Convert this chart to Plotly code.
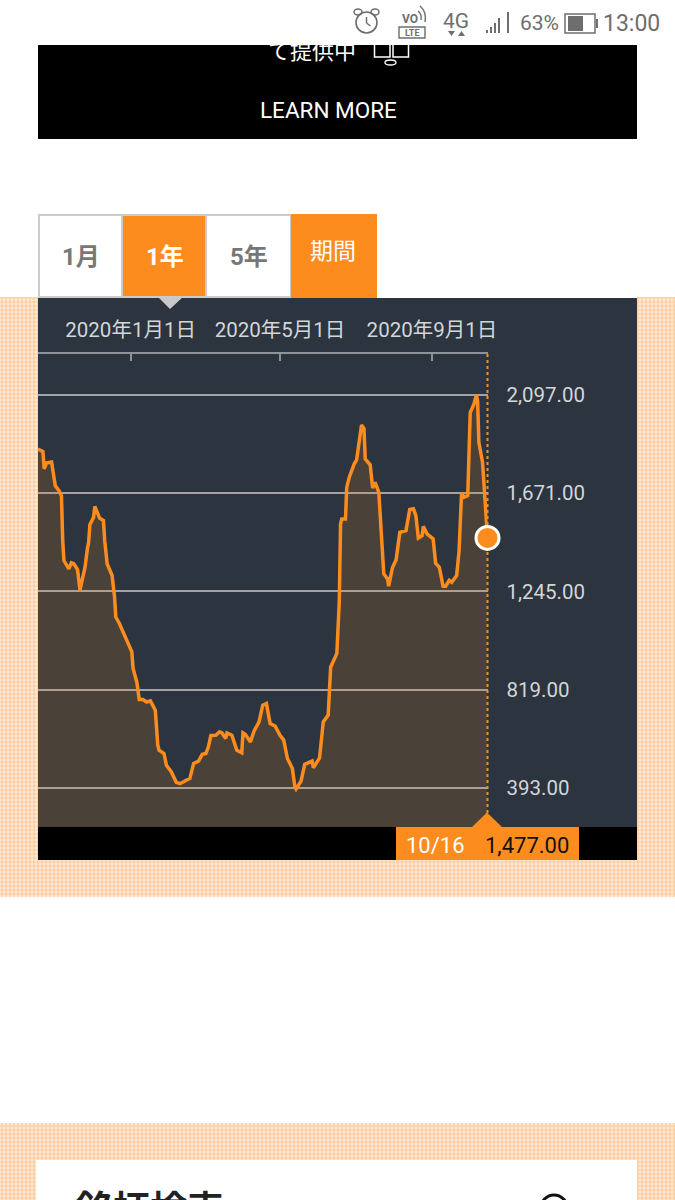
import plotly.graph_objects as go

# Chart data
dates=["2019-10-18","2019-10-22","2019-10-23","2019-10-25","2019-10-29","2019-11-01","2019-11-04","2019-11-06","2019-11-07","2019-11-08",
    "2019-11-12","2019-11-14","2019-11-16","2019-11-19","2019-11-21","2019-11-25","2019-11-27","2019-11-28","2019-11-29","2019-12-02",
    "2019-12-03","2019-12-05","2019-12-07","2019-12-10","2019-12-11","2019-12-13","2019-12-17","2019-12-19","2019-12-20","2019-12-23",
    "2020-01-02","2020-01-03","2020-01-06","2020-01-08","2020-01-11","2020-01-14","2020-01-17","2020-01-21","2020-01-23","2020-01-24",
    "2020-01-28","2020-01-30","2020-02-03","2020-02-07","2020-02-10","2020-02-18","2020-02-21","2020-02-25","2020-02-28","2020-03-02",
    "2020-03-04","2020-03-06","2020-03-10","2020-03-13","2020-03-15","2020-03-18","2020-03-19","2020-03-23","2020-03-27","2020-03-31",
    "2020-04-01","2020-04-03","2020-04-07","2020-04-10","2020-04-14","2020-04-17","2020-04-20","2020-04-23","2020-04-27","2020-05-01",
    "2020-05-04","2020-05-07","2020-05-11","2020-05-13","2020-05-14","2020-05-18","2020-05-21","2020-05-27","2020-05-28","2020-06-02",
    "2020-06-05","2020-06-09","2020-06-11","2020-06-16","2020-06-18","2020-06-19","2020-06-20","2020-06-23","2020-06-24","2020-06-26",
    "2020-06-30","2020-07-02","2020-07-04","2020-07-06","2020-07-08","2020-07-09","2020-07-13","2020-07-15","2020-07-17","2020-07-20",
    "2020-07-24","2020-07-27","2020-07-28","2020-07-31","2020-08-03","2020-08-06","2020-08-11","2020-08-14","2020-08-17","2020-08-19",
    "2020-08-21","2020-08-24","2020-08-25","2020-08-28","2020-09-02","2020-09-04","2020-09-07","2020-09-10","2020-09-12","2020-09-15",
    "2020-09-17","2020-09-21","2020-09-23","2020-09-25","2020-09-27","2020-09-30","2020-10-02","2020-10-05","2020-10-07","2020-10-08",
    "2020-10-09","2020-10-12","2020-10-16"]
values=[1862,1851,1776,1802,1806,1703,1682,1660,1466,1379,
    1343,1369,1365,1340,1252,1348,1430,1458,1534,1566,
    1613,1588,1562,1552,1466,1365,1314,1220,1134,1105,
    983,911,853,777,777,766,771,730,579,557,
    543,492,463,418,412,435,500,510,539,543,
    572,621,622,637,632,608,632,622,557,546,
    632,625,593,641,680,752,759,673,662,622,
    601,521,478,399,389,423,496,510,481,524,
    680,709,918,976,1206,1538,1559,1559,1696,1739,
    1797,1815,1898,1966,1951,1819,1794,1693,1718,1674,
    1322,1300,1268,1348,1382,1501,1509,1600,1603,1574,
    1477,1487,1527,1495,1473,1367,1350,1268,1267,1293,
    1285,1314,1422,1674,1653,1660,2020,2057,2097,2071,
    1891,1804,1477]
y_ticks=[393,819,1245,1671,2097]
x_ticks=["2020-01-01","2020-05-01","2020-09-01"]
x_labels=["2020年1月1日","2020年5月1日","2020年9月1日"]
periods=["1月","1年","5年","期間"]

orange="#fd8c1e"
panel="#2b343f"
latin="Roboto, 'Noto Sans CJK JP'"
cjk="'Noto Sans CJK JP', sans-serif"

fig=go.Figure()

# Dotted page background, left/right/bottom strips round the panel and the card
strip_x=[19,656,337.5,337.5,18,656]
strip_w=[38,38,599,675,36,38]
strip_top=[297,297,860,1123,1160,1160]
strip_h=[600,600,37,37,40,40]
fig.add_trace(go.Bar(x=strip_x,y=strip_h,base=strip_top,width=strip_w,
    marker=dict(color="#ffffff",line_width=0,
        pattern=dict(shape="+",size=4,solidity=0.5,fgcolor="#f8a95f",bgcolor="#ffead6"))))

# Texts cut off by the white header strip and by the bottom of the page
fig.add_trace(go.Scatter(x=[312],y=[53],mode="text",text=["て提供中"],
    textfont=dict(family=cjk,size=22,color="#ffffff"),cliponaxis=True))
fig.add_trace(go.Scatter(x=[150],y=[1195],mode="text",text=["<b>銘柄検索</b>"],textposition="bottom center",
    textfont=dict(family=cjk,size=37,color="#222222"),cliponaxis=True))

# The chart itself
fig.add_trace(go.Scatter(x=dates,y=values,mode="lines",xaxis="x2",yaxis="y2",
    line=dict(color=orange,width=3.5),fill="tozeroy",fillcolor="rgba(255,140,30,0.15)"))
fig.add_trace(go.Scatter(x=dates[-1:],y=values[-1:],mode="markers",xaxis="x2",yaxis="y2",cliponaxis=False,
    marker=dict(color=orange,size=23,line=dict(color="#ffffff",width=3))))

def rect(x0,y0,x1,y1,fill,line=None,width=0,layer="below"):
    return dict(type="rect",xref="x",yref="y",x0=x0,y0=y0,x1=x1,y1=y1,fillcolor=fill,layer=layer,
        line=dict(color=line if line else fill,width=width))

def tri(path,fill,layer="below"):
    return dict(type="path",xref="x",yref="y",path=path,fillcolor=fill,line_width=0,layer=layer)

def curve(path,color,width):
    return dict(type="path",xref="x",yref="y",path=path,layer="above",line=dict(color=color,width=width))

def oval(x0,y0,x1,y1,line,width,fill="rgba(0,0,0,0)",layer="above"):
    return dict(type="circle",xref="x",yref="y",x0=x0,y0=y0,x1=x1,y1=y1,fillcolor=fill,layer=layer,
        line=dict(color=line,width=width))

grey="#6e6e6e"
shapes=[
    # banner
    rect(38,45,637,139,"#000000"),
    rect(374.5,42,390,57,"rgba(0,0,0,0)","#ffffff",1.5,"above"),
    rect(393,42,408.5,57,"rgba(0,0,0,0)","#ffffff",1.5,"above"),
    rect(0,0,675,45,"#ffffff",layer="above"),
    oval(385,60,396,65,"#ffffff",1.3),
    # period buttons
    rect(39,215,122,297,"#ffffff","#cccccc",2),
    rect(122,215,206,297,orange,"#cccccc",2),
    rect(206,215,291,297,"#ffffff","#cccccc",2),
    rect(291,214,377,298,orange),
    # panel
    rect(38,298,637,827,panel),
    rect(38,827,637,860,"#000000"),
    rect(396,827,579,860,orange),
    tri("M 158 297 L 183 297 L 170 309 Z","#c9c9c9"),
    tri("M 472 827 L 502 827 L 487 812.5 Z",orange),
    dict(type="line",xref="x",yref="y",x0=487.5,x1=487.5,y0=354,y1=813,layer="below",
        line=dict(color=orange,width=2,dash="3px,3px")),
    # status bar icons
    oval(356,12,377,33,grey,1.6),
    dict(type="line",xref="x",yref="y",x0=366.5,x1=366.5,y0=17,y1=23,line=dict(color=grey,width=1.5)),
    dict(type="line",xref="x",yref="y",x0=366.5,x1=370.5,y0=23,y1=26,line=dict(color=grey,width=1.5)),
    oval(354,9,362,15,grey,1.5),
    oval(371,9,379,15,grey,1.5),
    rect(399,27,425,38,"#ffffff",grey,1.4,"above"),
    curve("M 418 11 Q 422 14 421 20",grey,1.4),
    curve("M 420 6 Q 427 12 425 22",grey,1.4),
    tri("M 448 31 L 455 31 L 451.5 36 Z",grey,"above"),
    tri("M 458 36 L 465 36 L 461.5 31 Z",grey,"above"),
    rect(486,30,488,33,grey,layer="above"),
    rect(490,27,492,33,grey,layer="above"),
    rect(494,23,496,33,grey,layer="above"),
    rect(498,18,500,33,grey,layer="above"),
    rect(507,12,509,33,grey,layer="above"),
    rect(565,14,595,33,"#ffffff",grey,1.5,"above"),
    rect(568,16,583,31,grey,layer="above"),
    rect(596,19,598,28,grey,layer="above"),
    # search icon, cut by the bottom of the page
    oval(541,1195,567,1221,"#111111",3),
]

def label(x,y,text,size,color,family=latin,bold=False):
    return dict(x=x,y=y,xref="x",yref="y",text=f"<b>{text}</b>" if bold else text,showarrow=False,
        xanchor="center",yanchor="middle",font=dict(family=family,size=size,color=color))

annotations=[
    label(410,19,"VO",12,grey,bold=True),
    label(412,33,"LTE",9,grey,bold=True),
    label(456,21,"4G",21,grey),
    label(539,23,"63%",21,grey),
    label(631,23,"13:00",23,grey),
    label(328,110,"LEARN MORE",22.5,"#ffffff"),
    label(81,257,periods[0],24,"#777777",bold=True),
    label(165,257,periods[1],24,"#ffffff",bold=True),
    label(249,257,periods[2],24,"#777777",bold=True),
    label(333,249,periods[3],23,"#ffffff",family=cjk),
    label(435,845,"10/16",22,"#ffffff"),
    label(527,845,f"{values[-1]:,.2f}",22,"#111111"),
]

# Show
fig.update_layout(width=675,height=1200,autosize=False,margin=dict(l=0,r=0,t=0,b=0,pad=0),showlegend=False,
    paper_bgcolor="#ffffff",plot_bgcolor="rgba(0,0,0,0)",barmode="overlay",hovermode=False,
    shapes=shapes,annotations=annotations,
    xaxis=dict(domain=[0,1],range=[0,675],visible=False,fixedrange=True,automargin=False),
    yaxis=dict(domain=[0,1],range=[1200,0],visible=False,fixedrange=True,automargin=False),
    xaxis2=dict(domain=[38/675,487.5/675],range=["2019-10-18","2020-10-16"],type="date",anchor="y2",side="top",
        tickmode="array",tickvals=x_ticks,ticktext=x_labels,ticks="inside",ticklen=7,tickwidth=2,tickcolor="#8f9296",
        showline=True,linecolor="#8f9296",linewidth=2,showgrid=False,zeroline=False,ticklabelstandoff=7,automargin=False,
        tickfont=dict(family=latin,size=20.5,color="#d4d6d8")),
    yaxis2=dict(domain=[1-827/1200,1-354/1200],range=[224.3,2274],anchor="x2",side="right",
        tickmode="array",tickvals=y_ticks,tickformat=",.2f",ticks="",showgrid=True,gridcolor="#a3a3a3",gridwidth=2,
        showline=False,zeroline=False,ticklabelstandoff=18,automargin=False,
        tickfont=dict(family=latin,size=20.5,color="#d4d6d8")))

fig.write_html("out.html",config=dict(displayModeBar=False),post_script="document.body.style.margin='0';")
